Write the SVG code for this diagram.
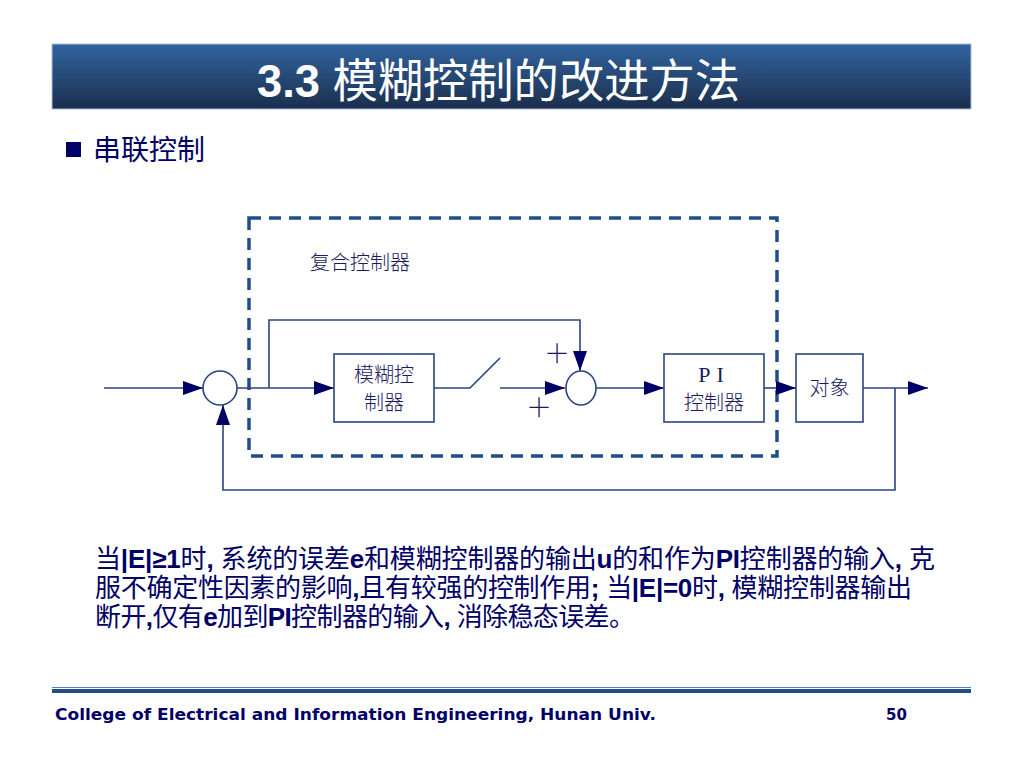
<svg xmlns="http://www.w3.org/2000/svg" width="1024" height="768" viewBox="0 0 1024 768">
<defs>
<linearGradient id="tg" x1="0" y1="0" x2="0" y2="1">
<stop offset="0" stop-color="#31649F"/>
<stop offset="1" stop-color="#1B2E4D"/>
</linearGradient>
<marker id="ar" markerUnits="userSpaceOnUse" markerWidth="22" markerHeight="16" refX="20" refY="7" orient="auto">
<path d="M0,0 L20,7 L0,14 z" fill="#000066"/>
</marker>
</defs>
<style>
.ln{fill:none;stroke:#2B4580;stroke-width:1.6}
.bx{fill:#fff;stroke:#2B4580;stroke-width:1.6}
.cn{font-family:"Noto Sans CJK SC","Liberation Sans",sans-serif;font-size:20px;fill:#1A1A5E;font-weight:300}
.sg{font-family:"Noto Sans CJK SC",sans-serif;font-size:26px;fill:#1A1A5E;font-weight:200}
.pt{font-family:"Liberation Sans","Noto Sans CJK SC",sans-serif;font-size:26px;fill:#000066}
.b{font-weight:bold}
</style>
<rect width="1024" height="768" fill="#fff"/>
<g id="title">
<rect x="52" y="44" width="919" height="65" fill="url(#tg)" stroke="#A9BEDC" stroke-width="1"/>
<text x="257" y="97" font-size="46" fill="#fff" font-family="Liberation Sans,Noto Sans CJK SC,sans-serif" textLength="483" lengthAdjust="spacingAndGlyphs"><tspan font-weight="bold">3.3 </tspan><tspan font-family="Noto Sans CJK SC,sans-serif">模糊控制的改进方法</tspan></text>
</g>
<g id="bullet">
<rect x="66" y="142" width="15" height="15" fill="#000066"/>
<text x="93" y="160" font-size="28" fill="#000066" font-family="Noto Sans CJK SC,sans-serif">串联控制</text>
</g>
<g id="composite">
<rect x="249" y="218" width="528" height="238" fill="none" stroke="#1F4E8C" stroke-width="3.5" stroke-dasharray="12,8"/>
<text x="310" y="270" class="cn" font-size="22">复合控制器</text>
</g>
<g id="connectors">
<path class="ln" d="M104,388 H203" marker-end="url(#ar)"/>
<path class="ln" d="M237,388 H334" marker-end="url(#ar)"/>
<path class="ln" d="M269,388 V320 H580 V371" marker-end="url(#ar)"/>
<path class="ln" d="M500,388 H565" marker-end="url(#ar)"/>
<path class="ln" d="M596,388 H664" marker-end="url(#ar)"/>
<path class="ln" d="M764,388 H796" marker-end="url(#ar)"/>
<path class="ln" d="M863,388 H928" marker-end="url(#ar)"/>
<path class="ln" d="M895,388 V490 H223 V405" marker-end="url(#ar)"/>
</g>
<g id="switch">
<path class="ln" d="M434,388 H470 L500,358"/>
</g>
<g id="sum1">
<circle cx="220" cy="388" r="17" class="bx"/>
</g>
<g id="sum2">
<ellipse cx="581" cy="388" rx="15" ry="17" class="bx"/>
<text x="557" y="363" class="sg" text-anchor="middle">＋</text>
<text x="539" y="417" class="sg" text-anchor="middle">＋</text>
</g>
<g id="fuzzy">
<rect x="334" y="354" width="100" height="68" class="bx"/>
<text x="384" y="382" class="cn" text-anchor="middle">模糊控</text>
<text x="384" y="410" class="cn" text-anchor="middle">制器</text>
</g>
<g id="pi">
<rect x="664" y="354" width="100" height="68" class="bx"/>
<text x="714" y="382" font-family="Liberation Serif,serif" font-size="22" fill="#1A1A5E" text-anchor="middle" letter-spacing="6">PI</text>
<text x="714" y="410" class="cn" text-anchor="middle">控制器</text>
</g>
<g id="plant">
<rect x="796" y="354" width="67" height="68" class="bx"/>
<text x="829.5" y="395" class="cn" text-anchor="middle">对象</text>
</g>
<g id="paragraph">
<text x="95" y="568" class="pt" textLength="840" lengthAdjust="spacing">当<tspan class="b">|E|≥1</tspan>时<tspan class="b">, </tspan>系统的误差<tspan class="b">e</tspan>和模糊控制器的输出<tspan class="b">u</tspan>的和作为<tspan class="b">PI</tspan>控制器的输入<tspan class="b">, </tspan>克</text>
<text x="95" y="597" class="pt" textLength="817" lengthAdjust="spacing">服不确定性因素的影响<tspan class="b">,</tspan>且有较强的控制作用<tspan class="b">; </tspan>当<tspan class="b">|E|=0</tspan>时<tspan class="b">, </tspan>模糊控制器输出</text>
<text x="95" y="626" class="pt" textLength="540" lengthAdjust="spacing">断开<tspan class="b">,</tspan>仅有<tspan class="b">e</tspan>加到<tspan class="b">PI</tspan>控制器的输入<tspan class="b">, </tspan>消除稳态误差。</text>
</g>
<g id="footer">
<line x1="52" y1="687.5" x2="971" y2="687.5" stroke="#5B7DB5" stroke-width="1"/>
<line x1="52" y1="691" x2="971" y2="691" stroke="#1F4E8C" stroke-width="4"/>
<text x="55" y="720" font-family="DejaVu Sans,sans-serif" font-weight="bold" font-size="15" fill="#000066" textLength="601" lengthAdjust="spacingAndGlyphs">College of Electrical and Information Engineering, Hunan Univ.</text>
<text x="886" y="720" font-family="DejaVu Sans,sans-serif" font-weight="bold" font-size="15" fill="#000066">50</text>
</g>
</svg>
